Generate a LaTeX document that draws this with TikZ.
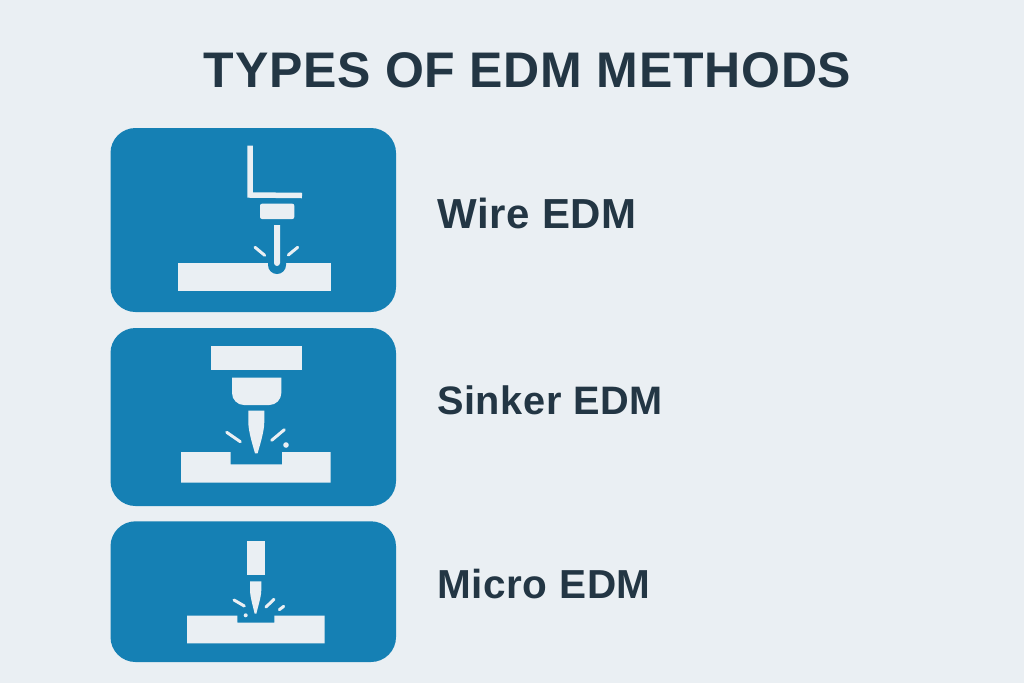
\documentclass[tikz,border=0pt]{standalone}
\usepackage{fontspec}
\setmainfont{Liberation Sans}
\usetikzlibrary{calc}
\definecolor{pagebg}{HTML}{EAEFF3}
\definecolor{cardblue}{HTML}{1580B4}
\definecolor{inktext}{HTML}{233644}
\tikzset{
	card/.style={fill=cardblue, rounded corners=25pt},
	solidpart/.style={fill=pagebg},
	spark/.style={draw=pagebg, line width=3pt, line cap=round},
	heading/.style={text=inktext, font=\addfontfeatures{LetterSpace=1.4}\bfseries\fontsize{50}{50}\selectfont, anchor=base},
	methodlabel/.style={text=inktext, font=\addfontfeatures{LetterSpace=1.5}\fontsize{#1}{#1}\selectfont\bfseries, anchor=base west, inner sep=0pt}
}

\begin{document}
\begin{tikzpicture}[x=1pt, y=-1pt]
		%%%%% START %%%%%
		
		\fill[pagebg] (0, 0) rectangle (1024, 683);
		\useasboundingbox (0, 0) rectangle (1024, 683);
		
		\node[heading] (title) at (527.5, 87) {TYPES OF EDM METHODS};
		
		% wire
		\fill[card] (110.5, 128) rectangle (396, 312);
		\draw[pagebg, line width=5.5pt, line join=miter] (250.2, 145.7) -- (250.2, 195) -- (302, 195.5);
		\fill[solidpart, rounded corners=2pt] (260, 203.7) rectangle (294.3, 219);
		\fill[solidpart] (178, 262.7) rectangle (331.3, 291);
		\fill[cardblue] (268, 262.7) -- (286, 262.7) -- (286, 265) arc (0:180:9) -- cycle;
		\fill[solidpart] (274, 225) -- (280, 225) -- (280, 263) arc (0:180:3) -- cycle;
		\draw[spark] (255, 247.3) -- (264.7, 255.3);
		\draw[spark] (297.7, 247.3) -- (288.3, 255);
		\node[methodlabel=42] (wirelabel) at (437, 228) {Wire EDM};
		
		% sinker
		\fill[card] (110.5, 328) rectangle (396, 506);
		\fill[solidpart] (210.7, 346.3) rectangle (301.7, 370.3);
		\fill[solidpart] (232, 377.7) -- (281.3, 377.7) -- (281.3, 393) arc (0:90:12) -- (244, 405) arc (90:180:12) -- cycle;
		\fill[solidpart] (248.3, 410.7) -- (264.3, 410.7) -- (264.3, 422) .. controls (264.3, 432) and (259, 448) .. (257.6, 453.3) -- (255, 453.3) .. controls (253.6, 448) and (248.3, 432) .. (248.3, 422) -- cycle;
		\fill[solidpart] (181, 452) -- (230.7, 452) -- (230.7, 464.3) -- (282, 464.3) -- (282, 452) -- (330.7, 452) -- (330.7, 482.7) -- (181, 482.7) -- cycle;
		\draw[spark] (226.7, 432.3) -- (240.3, 441.7);
		\draw[spark] (284.3, 429.7) -- (271.7, 440.3);
		\fill[solidpart] (286, 445) circle (2.8);
		\node[methodlabel=39.7] (sinkerlabel) at (437, 414.5) {Sinker EDM};
		
		% micro
		\fill[card] (110.5, 521.3) rectangle (396, 662);
		\fill[solidpart] (247, 541) rectangle (265, 575.3);
		\fill[solidpart] (250, 581.3) -- (261.3, 581.3) -- (261.3, 590) .. controls (261.3, 597) and (257.5, 608) .. (256.4, 613.7) -- (254.6, 613.7) .. controls (253.5, 608) and (250, 597) .. (250, 590) -- cycle;
		\fill[solidpart] (187, 615.7) -- (237.3, 615.7) -- (237.3, 622.7) -- (274.3, 622.7) -- (274.3, 615.7) -- (324.7, 615.7) -- (324.7, 643.3) -- (187, 643.3) -- cycle;
		\draw[spark] (234, 600) -- (244.3, 606);
		\draw[spark] (274, 599.3) -- (266, 607);
		\draw[spark] (283.7, 606.3) -- (279.3, 609.7);
		\fill[solidpart] (245.7, 615.3) circle (2);
		\node[methodlabel=40.5] (microlabel) at (437, 598) {Micro EDM};
		
		%%%%% END %%%%%
	\end{tikzpicture}
\end{document}
